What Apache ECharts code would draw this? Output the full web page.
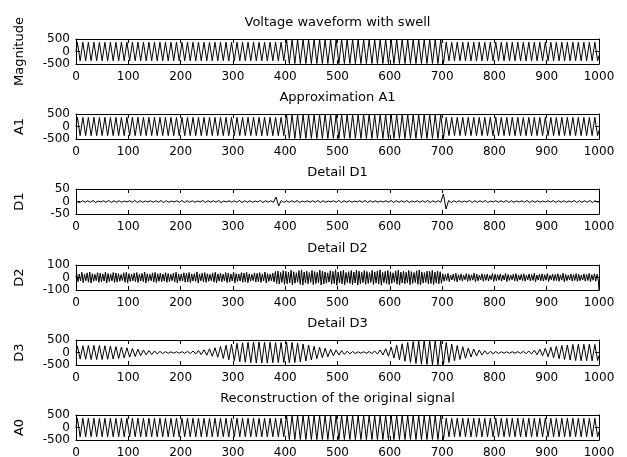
<!DOCTYPE html>
<html>
<head>
<meta charset="utf-8">
<script src="https://cdn.jsdelivr.net/npm/echarts@6/dist/echarts.min.js"></script>
<style>
  html, body { margin: 0; padding: 0; background: #fff; }
  #chart { width: 627px; height: 457px; }
</style>
</head>
<body>
<div id="chart"></div>
<script>
// Sample index axis shared by every panel
const sampleCount = 1000;
const xTicks = [0, 100, 200, 300, 400, 500, 600, 700, 800, 900, 1000];

// Peak amplitude of each oscillation cycle, left to right (one value per cycle)
const signalPeaks = [
  370,370,370,370,370,370,370,370,370,370,
  370,370,370,370,370,370,370,370,370,370,
  370,370,370,370,370,370,370,370,370,370,
  370,370,370,370,370,370,370,370,480,480,
  480,480,480,480,480,480,480,480,480,480,
  480,480,480,480,480,480,480,480,480,480,
  480,480,480,480,480,480,480,370,370,370,
  370,370,370,370,370,370,370,370,370,370,
  370,370,370,370,370,370,370,370,370,370,
  370,370,370,370,370
];
const a1Peaks = [
  365,365,365,365,365,365,365,365,365,365,
  365,365,365,365,365,365,365,365,365,365,
  365,365,365,365,365,365,365,365,365,365,
  365,365,365,365,365,365,365,365,475,475,
  475,475,475,475,475,475,475,475,475,475,
  475,475,475,475,475,475,475,475,475,475,
  475,475,475,475,475,475,475,365,365,365,
  365,365,365,365,365,365,365,365,365,365,
  365,365,365,365,365,365,365,365,365,365,
  365,365,365,365,365
];
const d1Peaks = [
  4,3,3,4,2,3,4,3,3,2,
  3,4,3,2,3,3,4,3,2,3,
  4,3,3,2,4,3,3,4,2,3,
  3,4,3,3,2,4,3,3,18,4,
  3,3,4,2,3,3,4,3,2,3,
  4,3,3,2,3,4,3,3,2,3,
  4,3,3,4,2,3,3,4,3,3,
  30,4,3,3,2,4,3,3,4,2,
  3,3,4,3,2,3,4,3,3,2,
  3,4,3,3,2,4,3,3,4,3
];
const d2Peaks = [
  34,28,41,26,37,44,30,25,39,35,
  29,43,32,27,40,36,30,24,38,42,
  31,27,35,40,28,33,44,30,26,37,
  41,30,34,28,39,32,25,36,43,29,
  27,38,34,40,28,31,45,27,35,39,
  30,26,37,42,29,34,27,40,36,28,
  43,32,28,38,35,41,29,25,37,33,
  39,28,44,31,27,36,48,52,40,55,
  50,42,58,46,38,55,61,44,50,39,
  57,48,41,60,52,45,37,54,49,62,
  43,51,58,40,47,56,44,60,50,42,
  55,48,39,57,45,52,61,41,49,56,
  46,38,53,59,44,50,42,57,47,40,
  54,60,45,39,51,48,56,43,50,46,
  30,24,33,20,27,35,22,29,18,31,
  25,21,34,27,19,30,23,28,17,32,
  26,22,29,20,33,24,18,27,31,21,
  25,30,19,28,23,34,20,26,29,22,
  32,18,27,24,30,21,35,25,19,28,
  23,31,26,20,29,24,33,22,30,27
];
const d3Peaks = [
  260,270,280,280,280,270,260,240,220,190,
  160,130,100,80,60,45,35,30,30,35,
  45,60,80,110,150,190,240,290,330,370,
  390,410,420,420,420,410,400,400,410,400,
  380,340,300,250,210,170,130,100,75,55,
  40,30,30,40,60,100,150,220,290,350,
  400,440,470,480,490,490,480,400,340,280,
  230,180,140,100,70,50,40,30,30,30,
  35,45,60,90,130,170,210,250,280,300,
  320,330,330,330,320
];
const a0Peaks = [
  370,370,370,370,370,370,370,370,370,370,
  370,370,370,370,370,370,370,370,370,370,
  370,370,370,370,370,370,370,370,370,370,
  370,370,370,370,370,370,370,370,480,480,
  480,480,480,480,480,480,480,480,480,480,
  480,480,480,480,480,480,480,480,480,480,
  480,480,480,480,480,480,480,370,370,370,
  370,370,370,370,370,370,370,370,370,370,
  370,370,370,370,370,370,370,370,370,370,
  370,370,370,370,370
];

// Value of the last sample of each trace
const lastSamples = [-160, -160, 0, -100, -120, -160];

const panelTitles = [
  'Voltage waveform with swell',
  'Approximation A1',
  'Detail D1',
  'Detail D2',
  'Detail D3',
  'Reconstruction of the original signal'
];
const panelNames = ['Magnitude', 'A1', 'D1', 'D2', 'D3', 'A0'];
const panelLimits = [500, 500, 50, 100, 500, 500];
const panelPeaks = [signalPeaks, a1Peaks, d1Peaks, d2Peaks, d3Peaks, a0Peaks];

// Turn per-cycle peaks into an alternating peak/trough trace over the sample axis
function buildTrace(peaks, lastValue) {
  const cycle = sampleCount / peaks.length;
  const pts = [[0, 0]];
  peaks.forEach((a, i) => {
    pts.push([i * cycle + cycle * 0.25, a]);
    pts.push([i * cycle + cycle * 0.75, -a]);
  });
  pts.push([sampleCount, lastValue]);
  return pts;
}

const font = 'DejaVu Sans';
const tickSize = 12;
const textSize = 13;
const boxLeft = 76, boxRight = 28, boxHeight = 25;
const panelTops = [39, 114, 189, 265, 340, 415];

const grids = [], xAxes = [], yAxes = [], series = [];
panelTitles.forEach((title, i) => {
  const lim = panelLimits[i];
  grids.push({ left: boxLeft, right: boxRight, top: panelTops[i], height: boxHeight,
    containLabel: false, outerBoundsMode: 'none' });
  const tick = { show: true, inside: true, length: 4, lineStyle: { color: '#000', width: 1 } };
  const line = { show: true, onZero: false, lineStyle: { color: '#000', width: 1 } };
  xAxes.push({
    gridIndex: i, type: 'value', position: 'bottom', min: 0, max: sampleCount, interval: 100,
    axisLine: line, axisTick: tick, splitLine: { show: false },
    axisLabel: { color: '#000', fontFamily: font, fontSize: tickSize, margin: 7,
      formatter: v => xTicks.includes(v) ? String(v) : '' }
  });
  xAxes.push({
    gridIndex: i, type: 'value', position: 'top', min: 0, max: sampleCount, interval: 100,
    axisLine: line, axisTick: tick, splitLine: { show: false }, axisLabel: { show: false },
    name: title, nameLocation: 'middle', nameGap: 10,
    nameTextStyle: { color: '#000', fontFamily: font, fontSize: textSize, verticalAlign: 'bottom' }
  });
  yAxes.push({
    gridIndex: i, type: 'value', position: 'left', min: -lim, max: lim, interval: lim,
    axisLine: line, axisTick: tick, splitLine: { show: false },
    axisLabel: { color: '#000', fontFamily: font, fontSize: tickSize, lineHeight: 11, margin: 6,
      showMinLabel: true, showMaxLabel: true, hideOverlap: false },
    name: panelNames[i], nameLocation: 'middle', nameRotate: 90, nameGap: 50,
    nameTextStyle: { color: '#000', fontFamily: font, fontSize: textSize }
  });
  yAxes.push({
    gridIndex: i, type: 'value', position: 'right', min: -lim, max: lim, interval: lim,
    axisLine: line, axisTick: tick, splitLine: { show: false }, axisLabel: { show: false }
  });
  series.push({
    type: 'line', xAxisIndex: 2 * i, yAxisIndex: 2 * i,
    data: buildTrace(panelPeaks[i], lastSamples[i]),
    showSymbol: false, symbol: 'none', clip: true,
    lineStyle: { color: '#000', width: 1 }
  });
});

const chart = echarts.init(document.getElementById('chart'), null, { renderer: 'canvas' });
chart.setOption({
  animation: false,
  backgroundColor: '#fff',
  grid: grids,
  xAxis: xAxes,
  yAxis: yAxes,
  series: series
});
</script>
</body>
</html>
